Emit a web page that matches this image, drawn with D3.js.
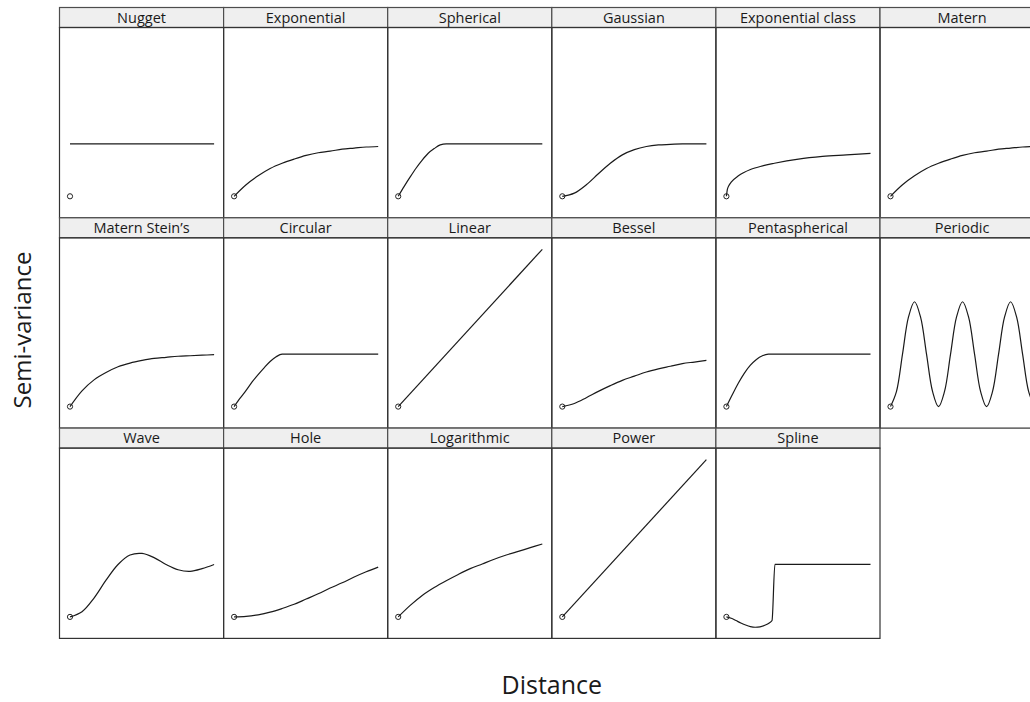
<!DOCTYPE html>
<html>
<head>
<meta charset="utf-8">
<script src="https://cdn.jsdelivr.net/npm/d3@7"></script>
<style>
	body { margin: 0; background: #fff; }
	text { font-family: "Open Sans", sans-serif; fill: #1a1a1a; }
</style>
</head>
<body>
<div id="js_chart"></div>
<script>
'use strict';

// panel titles, in reading order
const modelNames = ['Nugget', 'Exponential', 'Spherical', 'Gaussian', 'Exponential class', 'Matern',
	'Matern Stein\u2019s', 'Circular', 'Linear', 'Bessel', 'Pentaspherical', 'Periodic',
	'Wave', 'Hole', 'Logarithmic', 'Power', 'Spline'];

// distances (x)
const hEnds = [0, 3];
const hQuarter = [0, 0.25, 0.5, 0.75, 1, 1.25, 1.5, 1.75, 2, 2.25, 2.5, 2.75, 3];
const hRange = [0, 0.125, 0.25, 0.375, 0.5, 0.625, 0.75, 0.875, 1, 3];
const hEighth = [0, 0.125, 0.25, 0.375, 0.5, 0.625, 0.75, 0.875, 1, 1.125, 1.25, 1.375, 1.5,
	1.625, 1.75, 1.875, 2, 2.125, 2.25, 2.375, 2.5, 2.625, 2.75, 2.875, 3];
const hExc = [0, 0.02, 0.05, 0.1, 0.25, 0.5, 0.75, 1, 1.5, 2, 2.5, 3];
const hSpline = [0, 0.1, 0.2, 0.3, 0.4, 0.5, 0.6, 0.7, 0.8, 0.9, 0.95, 1.01, 3];

// semi-variance (y)
const gNugget = [1, 1];
const gExp = [0, 0.22, 0.39, 0.53, 0.63, 0.71, 0.78, 0.83, 0.86, 0.9, 0.92, 0.94, 0.95];
const gSph = [0, 0.19, 0.37, 0.54, 0.69, 0.82, 0.91, 0.98, 1, 1];
const gGau = [0, 0.06, 0.22, 0.43, 0.63, 0.79, 0.89, 0.95, 0.98, 0.99, 1, 1, 1];
const gExc = [0, 0.13, 0.2, 0.27, 0.39, 0.51, 0.58, 0.63, 0.71, 0.76, 0.79, 0.82];
const gMat = [0, 0.22, 0.39, 0.53, 0.63, 0.71, 0.78, 0.83, 0.86, 0.9, 0.92, 0.94, 0.95];
const gSte = [0, 0.3, 0.51, 0.65, 0.76, 0.83, 0.88, 0.92, 0.94, 0.96, 0.97, 0.98, 0.99];
const gCir = [0, 0.16, 0.31, 0.47, 0.61, 0.74, 0.86, 0.95, 1, 1];
const gLin = [0, 3];
const gBes = [0, 0.06, 0.17, 0.29, 0.4, 0.5, 0.58, 0.66, 0.72, 0.77, 0.82, 0.85, 0.88];
const gPen = [0, 0.23, 0.45, 0.64, 0.79, 0.9, 0.97, 1, 1, 1];
const gPer = [0, 0.29, 1, 1.71, 2, 1.71, 1, 0.29, 0, 0.29, 1, 1.71, 2, 1.71, 1, 0.29,
	0, 0.29, 1, 1.71, 2, 1.71, 1, 0.29, 0];
const gWav = [0, 0.1, 0.36, 0.7, 1, 1.18, 1.21, 1.13, 1, 0.9, 0.87, 0.92, 1];
const gHol = [0, 0.01, 0.04, 0.09, 0.16, 0.24, 0.34, 0.44, 0.55, 0.65, 0.76, 0.86, 0.95];
const gLog = [0, 0.22, 0.41, 0.56, 0.69, 0.81, 0.92, 1.01, 1.1, 1.18, 1.25, 1.32, 1.39];
const gPow = [0, 3];
const gSpl = [0, -0.025, -0.07, -0.115, -0.155, -0.185, -0.197, -0.19, -0.16, -0.11, -0.07, 1, 1];

const distances = [hEnds, hQuarter, hRange, hQuarter, hExc, hQuarter,
	hQuarter, hRange, hEnds, hQuarter, hRange, hEighth,
	hQuarter, hQuarter, hQuarter, hEnds, hSpline];
const gammas = [gNugget, gExp, gSph, gGau, gExc, gMat,
	gSte, gCir, gLin, gBes, gPen, gPer,
	gWav, gHol, gLog, gPow, gSpl];
// panels with a sill reached at a finite range keep a monotone curve
const flatJoin = ['Nugget', 'Spherical', 'Circular', 'Pentaspherical', 'Spline', 'Exponential class'];

const width = 1030, height = 702;
const gridLeft = 59.5, gridTop = 7.5;
const cellW = 164.1, cellH = 210.3, stripH = 20;
const plotH = cellH - stripH;
const nCols = 6;

const svg = d3.select('#js_chart').append('svg')
	.attr('width', width)
	.attr('height', height);

const x = d3.scaleLinear().domain([0, 3]).range([10.5, cellW - 9.5]);
const y = d3.scaleLinear().domain([0, 3]).range([plotH - 21.5, 11.5]);
function lineFor(name) {
	return d3.line()
		.x(function (d) { return x(d[0]); })
		.y(function (d) { return y(d[1]); })
		.curve(flatJoin.indexOf(name) >= 0 ? d3.curveMonotoneX : d3.curveCatmullRom.alpha(0.5));
}

const panels = svg.selectAll('.panel')
	.data(modelNames).enter().append('g')
	.classed('panel', true)
	.attr('transform', function (d, i) {
		return 'translate(' + (gridLeft + (i % nCols) * cellW) + ',' + (gridTop + Math.floor(i / nCols) * cellH) + ')';
	});

// strip
panels.append('rect')
	.attr('width', cellW).attr('height', stripH)
	.style('fill', '#efefef').style('stroke', '#4d4d4d').style('stroke-width', 1.2);
panels.append('text')
	.attr('x', cellW / 2).attr('y', stripH - 5)
	.style('text-anchor', 'middle').style('font-size', '14.5px')
	.text(function (d) { return d; });

// plot area
panels.append('rect')
	.attr('y', stripH)
	.attr('width', cellW).attr('height', plotH)
	.style('fill', 'none').style('stroke', '#333').style('stroke-width', 1.2);

const inner = panels.append('g').attr('transform', 'translate(0,' + stripH + ')');
inner.append('path')
	.attr('d', function (d, i) {
		return lineFor(d)(distances[i].map(function (h, j) { return [h, gammas[i][j]]; }));
	})
	.style('fill', 'none').style('stroke', '#1a1a1a').style('stroke-width', 1.2);
inner.append('circle')
	.attr('cx', x(0)).attr('cy', y(0)).attr('r', 2.6)
	.style('fill', 'none').style('stroke', '#222').style('stroke-width', 1);

// axis titles
svg.append('text')
	.attr('x', gridLeft + nCols * cellW / 2).attr('y', 694)
	.style('text-anchor', 'middle').style('font-size', '25px')
	.text('Distance');
svg.append('text')
	.attr('transform', 'translate(31,' + 330 + ') rotate(-90)')
	.style('text-anchor', 'middle').style('font-size', '24px')
	.text('Semi-variance');
</script>
</body>
</html>
